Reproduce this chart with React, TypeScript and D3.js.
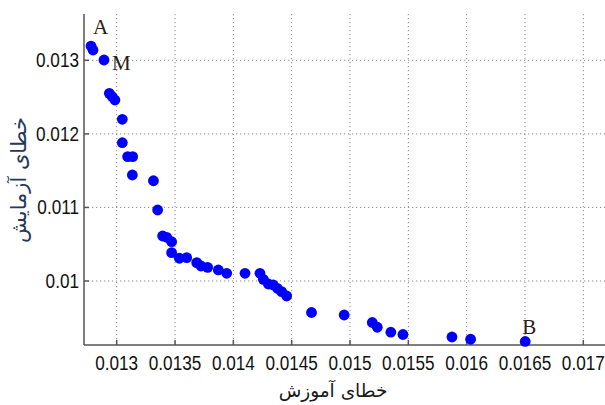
import * as d3 from 'd3';
import { useMemo } from 'react';

// training error (x) and test error (y) for each network
const trainErr = [
  0.01278, 0.012797, 0.012891, 0.012937, 0.012962, 0.012985, 0.013048, 0.013048,
  0.013094, 0.013137, 0.013134, 0.013315, 0.013351, 0.013394, 0.013429, 0.013471,
  0.013471, 0.013537, 0.0136, 0.013686, 0.013723, 0.01378, 0.013871, 0.013943,
  0.0141, 0.014228, 0.014257, 0.0143, 0.014342, 0.014377, 0.014414, 0.014457,
  0.01467, 0.01495, 0.015191, 0.015234, 0.01535, 0.015454, 0.015874, 0.016034,
  0.016502,
];
const testErr = [
  0.013194, 0.01314, 0.013004, 0.012551, 0.012505, 0.01246, 0.012198, 0.01188,
  0.01169, 0.01169, 0.011441, 0.011363, 0.010965, 0.010612, 0.010594, 0.010534,
  0.010385, 0.010309, 0.010317, 0.010249, 0.010204, 0.010186, 0.01015, 0.010105,
  0.010105, 0.010105, 0.010023, 0.009959, 0.009946, 0.009901, 0.009855, 0.009796,
  0.009572, 0.009538, 0.009436, 0.009371, 0.009304, 0.009273, 0.009239, 0.009208,
  0.009178,
];

const xTicks = [0.013, 0.0135, 0.014, 0.0145, 0.015, 0.0155, 0.016, 0.0165, 0.017];
const xTickLabels = ['0.013', '0.0135', '0.014', '0.0145', '0.015', '0.0155', '0.016', '0.0165', '0.017'];
const yTicks = [0.01, 0.011, 0.012, 0.013];
const yTickLabels = ['0.01', '0.011', '0.012', '0.013'];

// point annotations: label, index of the point it marks, text offset
const notes: [string, number, number, number][] = [
  ['A', 0, 2, -12],
  ['M', 2, 8, 10],
  ['B', 40, -3, -7],
];

const xTitle = 'خطای آموزش';
const yTitle = 'خطای آزمایش';

export default function App() {
  const W = 605, H = 405;
  const left = 84, bottom = 345, top = 14;

  const { x, y } = useMemo(() => {
    const x = d3.scaleLinear().domain([0.013, 0.017]).range([116.7, 583.3]);
    const y = d3.scaleLinear().domain([0.01, 0.013]).range([281, 60.3]);
    return { x, y };
  }, []);

  const pts = trainErr.map((v, i) => ({ cx: x(v), cy: y(testErr[i]) }));
  const tickFont = { fontFamily: '"Liberation Sans", Arial, sans-serif', fontSize: 19.5 };

  return (
    <svg width={W} height={H} style={{ position: 'absolute', left: 0, top: 0, background: '#fff' }}>
      {/* grid */}
      <g stroke="#8a8a8a" strokeWidth={1} strokeDasharray="1.2,2.8">
        {xTicks.map(t => (
          <line key={'gx' + t} x1={x(t)} x2={x(t)} y1={top} y2={bottom} />
        ))}
        {yTicks.map(t => (
          <line key={'gy' + t} x1={left} x2={W} y1={y(t)} y2={y(t)} />
        ))}
      </g>

      {/* axes */}
      <g stroke="#555" strokeWidth={1.5} fill="none">
        <line x1={left} x2={left} y1={top} y2={bottom} />
        <line x1={left} x2={W} y1={bottom} y2={bottom} />
        {xTicks.map(t => (
          <line key={'tx' + t} x1={x(t)} x2={x(t)} y1={bottom} y2={bottom - 5} />
        ))}
        {yTicks.map(t => (
          <line key={'ty' + t} x1={left} x2={left + 5} y1={y(t)} y2={y(t)} />
        ))}
      </g>

      {/* tick labels */}
      <g fill="#111" style={tickFont}>
        {xTicks.map((t, i) => (
          <text key={'lx' + t} transform={`translate(${x(t)},${bottom + 25}) scale(0.88,1)`} textAnchor="middle">
            {xTickLabels[i]}
          </text>
        ))}
        {yTicks.map((t, i) => (
          <text key={'ly' + t} transform={`translate(${left - 5},${y(t) + 7}) scale(0.88,1)`} textAnchor="end">
            {yTickLabels[i]}
          </text>
        ))}
      </g>

      {/* axis titles */}
      <text x={333} y={397} textAnchor="middle" fill="#1a1a1a"
        style={{ fontFamily: '"DejaVu Sans", sans-serif', fontSize: 18.5 }}>
        {xTitle}
      </text>
      <text transform="translate(26,180) rotate(-90)" textAnchor="middle" fill="#24395a"
        style={{ fontFamily: '"DejaVu Sans", sans-serif', fontSize: 21 }}>
        {yTitle}
      </text>

      {/* points */}
      <g fill="#0000ff">
        {pts.map((p, i) => (
          <circle key={i} cx={p.cx} cy={p.cy} r={5.4} />
        ))}
      </g>

      {/* annotations */}
      <g fill="#2a2015" style={{ fontFamily: '"Liberation Serif", "Times New Roman", serif', fontSize: 21 }}>
        {notes.map(([label, idx, dx, dy]) => (
          <text key={label} x={pts[idx].cx + dx} y={pts[idx].cy + dy}>
            {label}
          </text>
        ))}
      </g>
    </svg>
  );
}
